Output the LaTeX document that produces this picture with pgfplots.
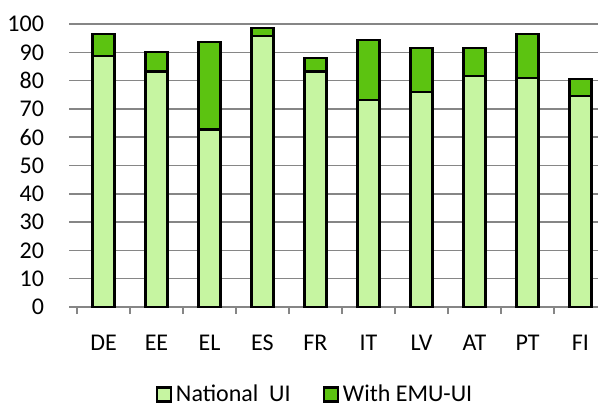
\documentclass[border=0pt]{standalone}
\usepackage{fontspec}
\setmainfont{Carlito}
\usepackage{pgfplots}
\pgfplotsset{compat=1.18}

\definecolor{lightgrn}{HTML}{C6F5A1}
\definecolor{darkgrn}{HTML}{5CC311}
\definecolor{gridgray}{HTML}{868686}

\begin{document}
\begin{tikzpicture}
\begin{axis}[
  scale only axis,
  width=265pt, height=141.5pt,
  ybar stacked, bar width=11pt,
  xmin=-0.5, xmax=9.5,
  ymin=0, ymax=100,
  xtick={0,...,9},
  xticklabels={DE,EE,EL,ES,FR,IT,LV,AT,PT,FI},
  minor xtick={-0.5,0.5,...,9.5},
  ytick={0,10,...,100},
  axis line style={draw=none},
  tick align=outside,
  xtick pos=bottom, ytick pos=left,
  major tick length=4pt, minor tick length=3.5pt,
  every major x tick/.append style={draw=none},
  every minor x tick/.append style={draw=gridgray, line width=0.75pt},
  every major y tick/.append style={draw=gridgray, line width=0.75pt},
  ymajorgrids,
  major grid style={draw=gridgray, line width=0.75pt},
  /pgf/number format/assume math mode=true,
  tick label style={font=\fontsize{12}{14}\selectfont, black},
  yticklabel style={xshift=-9pt},
  xticklabel style={text height=8pt, text depth=0pt, yshift=-6pt},
  legend style={at={(0.451,-0.245)}, anchor=north, legend columns=2,
    draw=none, font=\fontsize{12}{14}\selectfont,
    /tikz/every even column/.append style={column sep=14pt}},
  legend image code/.code={\draw[#1] (0pt,-3.5pt) rectangle (7pt,3.5pt);},
]
\addplot[fill=lightgrn, draw=black, line width=1.1pt] coordinates {
  (0,88.7) (1,83.2) (2,62.7) (3,95.9) (4,83.2)
  (5,73.2) (6,76.0) (7,81.6) (8,81.0) (9,74.6)};
\addplot[fill=darkgrn, draw=black, line width=1.1pt] coordinates {
  (0,7.9) (1,6.9) (2,30.9) (3,2.7) (4,4.8)
  (5,21.2) (6,15.5) (7,9.9) (8,15.6) (9,5.9)};
\legend{National~ UI, With EMU-UI}
\end{axis}
\pgfresetboundingbox
\path[use as bounding box] ([xshift=-38.5pt,yshift=-50.5pt]current axis.south west)
  rectangle ([xshift=-4.5pt,yshift=12pt]current axis.north east);
\end{tikzpicture}
\end{document}
